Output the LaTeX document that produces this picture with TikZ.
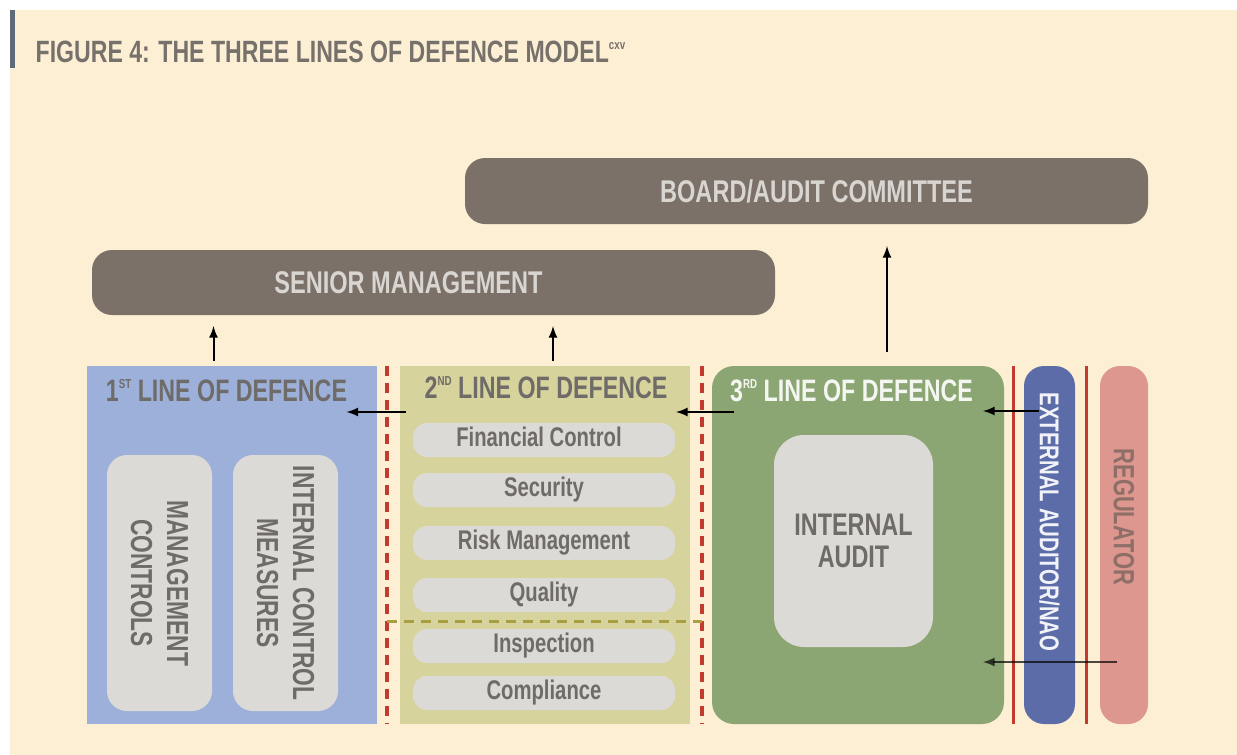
\documentclass[tikz,border=0pt]{standalone}
\usepackage{fontspec}
\setmainfont{Liberation Sans}[FakeStretch=0.75]

\definecolor{paper}{HTML}{FCEFD4}
\definecolor{slate}{HTML}{5F6B78}
\definecolor{titlegrey}{HTML}{77716C}
\definecolor{mudgrey}{HTML}{7B7169}
\definecolor{barfont}{HTML}{D9D6D2}
\definecolor{softgrey}{HTML}{DCDAD6}
\definecolor{inkgrey}{HTML}{6F6B68}
\definecolor{firstblue}{HTML}{9CB0DA}
\definecolor{secondolive}{HTML}{D6D39C}
\definecolor{thirdgreen}{HTML}{8CA673}
\definecolor{extblue}{HTML}{5B6CA8}
\definecolor{regpink}{HTML}{DD978E}
\definecolor{regfont}{HTML}{8E6E68}
\definecolor{linered}{HTML}{C33B2E}
\definecolor{oliveline}{HTML}{A8A040}

% small raised ordinal / reference mark
\newcommand\ordmark[1]{\raisebox{6.3pt}{\fontsize{6.5}{7}\selectfont #1}}

\begin{document}
\begin{tikzpicture}[x=0.5pt, y=-0.5pt, line width=1pt, >=latex,
    bar/.style={fill=mudgrey, rounded corners=10pt, text=barfont,
      minimum width=341.5pt, minimum height=33pt, font=\fontsize{15.7}{17}\bfseries},
    linebox/.style={minimum width=145pt, minimum height=179pt},
    linetitle/.style={anchor=base, font=\fontsize{15.5}{17}\bfseries},
    softbox/.style={fill=softgrey, text=inkgrey, rounded corners=10pt, align=center,
      font=\fontsize{15.2}{18}\bfseries},
    pill/.style={fill=softgrey, text=inkgrey, rounded corners=7pt,
      minimum width=131pt, minimum height=17pt, text height=1.5ex, text depth=.25ex,
      font=\fontsize{13.5}{15}\bfseries},
    sidebar/.style={rounded corners=10pt, minimum height=179pt},
    up/.style={->, shorten <=2pt, shorten >=5pt},
    reddash/.style={linered, line width=1.6pt, dash pattern=on 5pt off 3.5pt},
    redline/.style={linered, line width=1.5pt}]
    % Page
    \useasboundingbox (0,0) rectangle (1237,755);
    \fill[white] (0,0) rectangle (1237,755);
    \fill[paper] (10,10) rectangle (1237,755);
    \fill[slate] (10,10) rectangle (15,68);
    \node[anchor=base west, text=titlegrey, font=\fontsize{15.4}{17}\bfseries] (title) at (28,62)
      {FIGURE 4: THE THREE LINES OF DEFENCE MODEL\ordmark{cxv}};

    % Nodes
    \node[bar] (board) at (806.5,191) {\hspace*{10pt}BOARD/AUDIT COMMITTEE};
    \node[bar, minimum height=32.5pt] (senior) at (433.5,282.5) {SENIOR MANAGEMENT\hspace*{25pt}};

    \node[linebox, fill=firstblue] (line1) at (231.5,545) {};
    \node[linebox, fill=secondolive] (line2) at (545,545) {};
    \node[linebox, fill=thirdgreen, rounded corners=11pt, minimum width=146pt] (line3) at (858,545) {};

    \node[linetitle, text=inkgrey] (title1) at (226.5,401) {1\ordmark{ST} LINE OF DEFENCE};
    \node[linetitle, text=inkgrey] (title2) at (546,398) {2\ordmark{ND} LINE OF DEFENCE};
    \node[linetitle, text=white!90!thirdgreen] (title3) at (851.5,401) {3\ordmark{RD} LINE OF DEFENCE};

    \node[softbox, rotate=-90, minimum width=128pt, minimum height=52.5pt] (mgmt) at (159.5,583)
      {MANAGEMENT\\CONTROLS};
    \node[softbox, rotate=-90, minimum width=128pt, minimum height=52.5pt] (icm) at (285.5,583)
      {INTERNAL CONTROL\\MEASURES};

    \node[pill] (finance) at (544,440) {Financial Control\hspace*{5pt}};
    \node[pill] (security) at (544,490) {Security};
    \node[pill] (risk) at (544,543) {Risk Management};
    \node[pill] (quality) at (544,595) {Quality};
    \node[pill] (inspection) at (544,646) {Inspection};
    \node[pill] (compliance) at (544,693) {Compliance};

    \node[softbox, rounded corners=15pt, minimum width=79.5pt, minimum height=106pt,
      font=\fontsize{15.6}{16}\bfseries] (audit) at (853.5,541) {INTERNAL\\AUDIT};

    \node[sidebar, fill=extblue, minimum width=25.5pt] (ext) at (1049.5,545) {};
    \node[sidebar, fill=regpink, minimum width=24pt] (reg) at (1124,545) {};
    \node[rotate=-90, text=white!92!extblue, font=\fontsize{13.6}{15}\bfseries] (extlabel)
      at (1049.5,522) {EXTERNAL AUDITOR/NAO};
    \node[rotate=-90, text=regfont, font=\fontsize{14.6}{16}\bfseries] (reglabel)
      at (1124,517) {REGULATOR};

    % Separators
    \draw[reddash] (387,366) -- (387,724);
    \draw[reddash] (702,366) -- (702,724);
    \draw[oliveline, line width=1.5pt, dash pattern=on 5pt off 3.5pt] (387,621) -- (702,621);
    \draw[redline] (1013,366) -- (1013,724);
    \draw[redline] (1086,366) -- (1086,724);

    % Reporting lines
    \draw[up] ([xshift=-9pt]line1.north) -- ([xshift=-9pt]line1.north |- senior.south);
    \draw[up] ([xshift=4pt]line2.north) -- ([xshift=4pt]line2.north |- senior.south);
    \draw[->, shorten <=6.5pt, shorten >=10.5pt] ([xshift=14.5pt]line3.north)
      -- ([xshift=14.5pt]line3.north |- board.south);
    \draw[->] ([xshift=3.5pt,yshift=-23.5pt]line2.north west) -- ([xshift=-15.5pt,yshift=-23.5pt]line1.north east);
    \draw[->] ([xshift=11.5pt,yshift=-23.5pt]line3.north west) -- ([xshift=-7.5pt,yshift=-23.5pt]line2.north east);
    \draw[->] ([xshift=8pt,yshift=-23pt]ext.north west) -- ([xshift=-11pt,yshift=-23pt]line3.north east);
    \draw[->, opacity=0.7] ([xshift=9pt,yshift=-148.5pt]reg.north west) -- ([xshift=-11pt,yshift=-148.5pt]line3.north east);
  \end{tikzpicture}
\end{document}
